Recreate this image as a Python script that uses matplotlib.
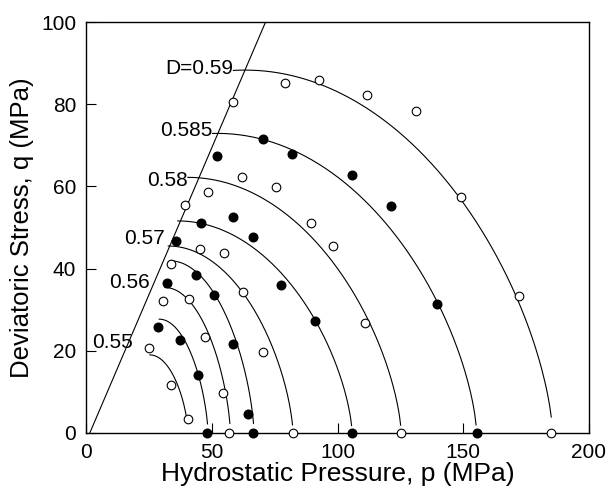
import numpy as np
import matplotlib
matplotlib.use("Agg")
import matplotlib.pyplot as plt

plt.rcParams['font.family'] = ['Liberation Sans', 'DejaVu Sans']

# straight bounding line (p, q)
line_p = [1.5, 71.4]
line_q = [0.0, 100.0]

# yield curves: top point (ps, qs), intercept p0, where drawing starts / stops
curve_ps = [25.4, 29.1, 31.4, 33.4, 32.7, 36.5, 40.5, 52.2, 63.2]
curve_qs = [19.0, 27.7, 35.4, 41.9, 45.5, 51.6, 62.2, 72.9, 88.3]
curve_p0 = [40.6, 48.5, 57.4, 66.8, 82.3, 105.8, 125.3, 155.3, 185.5]
curve_first = [25.4, 29.1, 31.4, 33.4, 32.7, 36.5, 40.5, 50.3, 58.6]
curve_stop = [39.8, 48.3, 57.2, 66.6, 82.1, 105.6, 125.1, 155.1, 185.0]

# curve labels (right end of text, centre height)
label_text = ['D=0.59', '0.585', '0.58', '0.57', '0.56', '0.55']
label_p = [58.4, 50.1, 40.5, 31.4, 25.4, 18.7]
label_q = [88.6, 73.6, 61.4, 47.4, 36.7, 21.9]

# test data, open symbols
open_p = [24.9, 33.6, 40.4,
          30.7, 40.8, 47.4, 54.3, 57.0,
          33.8, 45.3, 54.7, 62.6, 70.2, 82.2,
          39.3, 48.6, 62.1, 75.5, 89.4, 98.3, 110.8, 125.4,
          58.5, 79.3, 92.5, 111.9, 131.1, 149.3, 172.2, 185.0]
open_q = [20.6, 11.6, 3.5,
          32.0, 32.7, 23.4, 9.8, 0.0,
          41.1, 44.8, 43.8, 34.3, 19.6, 0.0,
          55.5, 58.7, 62.2, 59.9, 51.0, 45.6, 26.7, 0.0,
          80.6, 85.2, 85.9, 82.2, 78.4, 57.3, 33.4, 0.0]

# test data, filled symbols
filled_p = [28.7, 37.2, 44.4, 48.1,
            32.3, 43.8, 51.0, 58.5, 64.6, 66.5,
            35.9, 45.6, 58.4, 66.6, 77.7, 91.1, 105.9,
            51.9, 70.2, 81.8, 105.9, 121.3, 139.6, 155.3]
filled_q = [25.9, 22.6, 14.1, 0.0,
            36.6, 38.5, 33.5, 21.7, 4.7, 0.0,
            46.8, 51.2, 52.6, 47.6, 36.1, 27.3, 0.0,
            67.5, 71.6, 67.9, 62.8, 55.2, 31.4, 0.0]

SHAPE = 0.65

fig = plt.figure(figsize=(6.12, 4.97), dpi=100)
ax = fig.add_axes([86/612, 1-433/497, (589-86)/612, (433-22)/497])

ax.plot(line_p, line_q, color='black', lw=0.8)

for ps, qs, p0, p1, p2 in zip(curve_ps, curve_qs, curve_p0, curve_first, curve_stop):
    p = np.linspace(p1, p2, 200)
    x = (p - ps) / (p0 - ps)
    q = qs * np.clip(1 - x**2, 0, None)**SHAPE
    ax.plot(p, q, color='black', lw=0.8)

for t, x, y in zip(label_text, label_p, label_q):
    ax.text(x, y, t, ha='right', va='center', fontsize=15)

ax.plot(open_p, open_q, 'o', ms=6.2, mfc='white', mec='black', mew=0.8, clip_on=False, zorder=3)
ax.plot(filled_p, filled_q, 'o', ms=6.2, mfc='black', mec='black', clip_on=False, zorder=3)

ax.set_xlim(0, 200)
ax.set_ylim(0, 100)
ax.set_xticks([0, 50, 100, 150, 200])
ax.set_yticks([0, 20, 40, 60, 80, 100])
ax.tick_params(direction='in', length=7, width=0.8, labelsize=15, pad=7)
for s in ax.spines.values():
    s.set_linewidth(1.0)

ax.set_xlabel('Hydrostatic Pressure, p (MPa)', fontsize=19, labelpad=0)
ax.set_ylabel('Deviatoric Stress, q (MPa)', fontsize=18.5, labelpad=5)

fig.savefig('out.png', dpi=100)
